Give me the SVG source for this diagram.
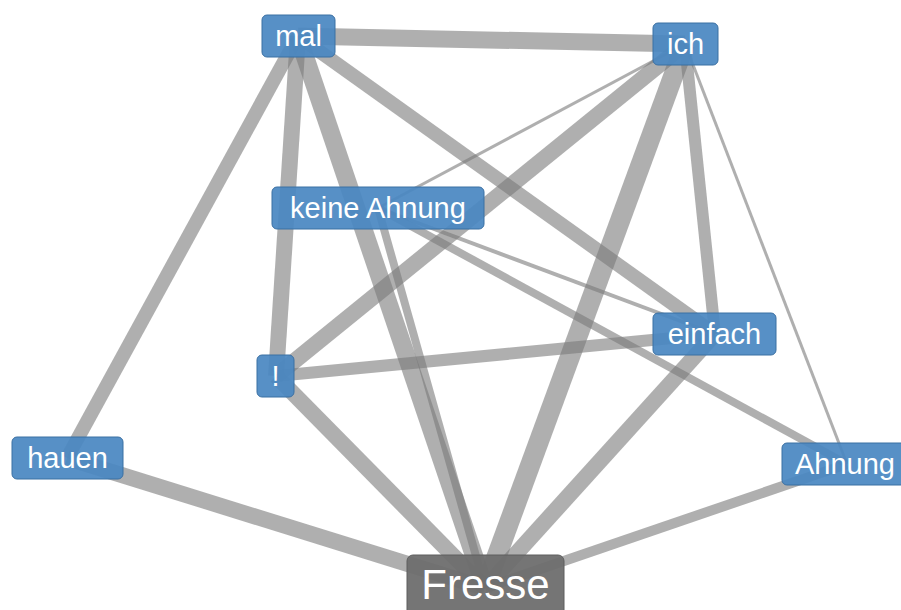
<svg xmlns="http://www.w3.org/2000/svg" width="901" height="610" viewBox="0 0 901 610">
  <style>
    .edge { stroke: #7a7a7a; stroke-opacity: 0.6; stroke-linecap: butt; fill: none; }
    .node rect { fill: #4a88c2; fill-opacity: 0.93; stroke: #3b70a3; stroke-width: 1; }
    .node text { font-family: "Liberation Sans", Arial, sans-serif; font-size: 29px; fill: #ffffff; text-anchor: middle; }
    #n-fresse rect { fill: #6e6e6e; fill-opacity: 0.95; stroke: #5e5e5e; }
    #n-fresse text { font-size: 42px; }
  </style>
  <rect width="901" height="610" fill="#ffffff"/>

  <!-- connectors between word centres; stroke width = co-occurrence weight -->
  <g id="edges">
    <line class="edge" x1="298" y1="36" x2="685" y2="44" stroke-width="17"/>
    <line class="edge" x1="298" y1="36" x2="67" y2="458" stroke-width="14"/>
    <line class="edge" x1="298" y1="36" x2="276" y2="376" stroke-width="16"/>
    <line class="edge" x1="298" y1="36" x2="485" y2="588" stroke-width="18"/>
    <line class="edge" x1="298" y1="36" x2="715" y2="334" stroke-width="14"/>
    <line class="edge" x1="685" y1="44" x2="276" y2="376" stroke-width="16"/>
    <line class="edge" x1="685" y1="44" x2="485" y2="588" stroke-width="20"/>
    <line class="edge" x1="685" y1="44" x2="715" y2="334" stroke-width="12"/>
    <line class="edge" x1="685" y1="44" x2="378" y2="208" stroke-width="3"/>
    <line class="edge" x1="685" y1="44" x2="847" y2="464" stroke-width="3"/>
    <line class="edge" x1="378" y1="208" x2="715" y2="334" stroke-width="4"/>
    <line class="edge" x1="378" y1="208" x2="847" y2="464" stroke-width="8"/>
    <line class="edge" x1="378" y1="208" x2="485" y2="588" stroke-width="8"/>
    <line class="edge" x1="276" y1="376" x2="715" y2="334" stroke-width="12"/>
    <line class="edge" x1="276" y1="376" x2="485" y2="588" stroke-width="16"/>
    <line class="edge" x1="67" y1="458" x2="485" y2="588" stroke-width="16"/>
    <line class="edge" x1="715" y1="334" x2="485" y2="588" stroke-width="16"/>
    <line class="edge" x1="847" y1="464" x2="485" y2="588" stroke-width="10"/>
  </g>

  <g id="n-mal" class="node">
    <rect x="262" y="15" width="73" height="42" rx="5"/>
    <text x="298.5" y="46">mal</text>
  </g>
  <g id="n-ich" class="node">
    <rect x="653" y="23" width="65" height="42" rx="5"/>
    <text x="685.5" y="54">ich</text>
  </g>
  <g id="n-keine-ahnung" class="node">
    <rect x="272" y="187" width="212" height="42" rx="5"/>
    <text x="378" y="218">keine Ahnung</text>
  </g>
  <g id="n-einfach" class="node">
    <rect x="653" y="313" width="123" height="42" rx="5"/>
    <text x="714.5" y="344">einfach</text>
  </g>
  <g id="n-bang" class="node">
    <rect x="257" y="355" width="37" height="42" rx="5"/>
    <text x="275.5" y="386">!</text>
  </g>
  <g id="n-hauen" class="node">
    <rect x="12" y="437" width="111" height="42" rx="5"/>
    <text x="67.5" y="468">hauen</text>
  </g>
  <g id="n-ahnung" class="node">
    <rect x="782" y="443" width="130" height="42" rx="5"/>
    <text x="845" y="474">Ahnung</text>
  </g>
  <g id="n-fresse" class="node">
    <rect x="407" y="555" width="157" height="70" rx="6"/>
    <text x="485.5" y="599">Fresse</text>
  </g>
</svg>
